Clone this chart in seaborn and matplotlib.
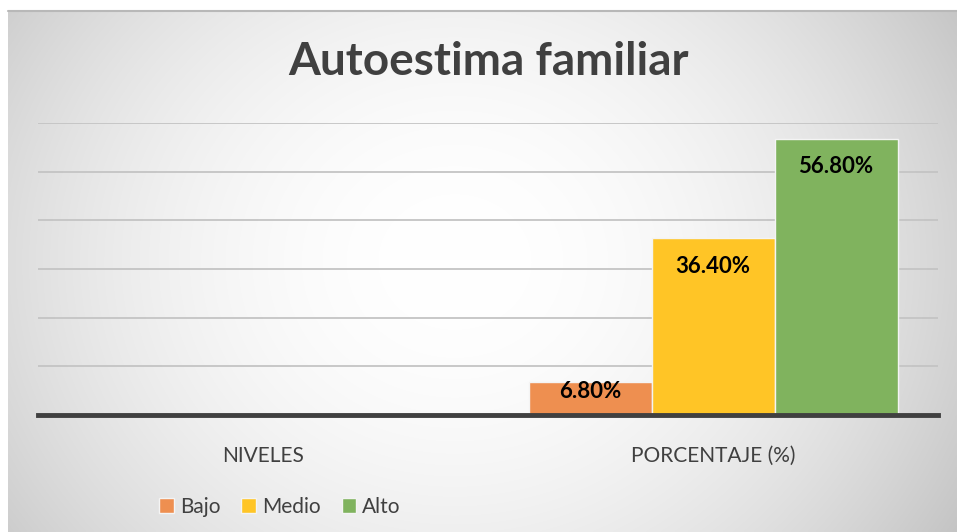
import numpy as np
import pandas as pd
import matplotlib
matplotlib.use('Agg')
import matplotlib.pyplot as plt
import seaborn as sns

# data
categorias = ['NIVELES', 'PORCENTAJE (%)']
niveles = ['Bajo', 'Medio', 'Alto']
niveles_vals = [np.nan, np.nan, np.nan]
porcentaje_vals = [6.8, 36.4, 56.8]
colores = ['#EE8F50', '#FFC526', '#80B35E']

df = pd.DataFrame({
    'categoria': [categorias[0]] * 3 + [categorias[1]] * 3,
    'nivel': niveles * 2,
    'valor': niveles_vals + porcentaje_vals,
})

sns.set_theme(style='white')
plt.rcParams['font.family'] = ['Lato', 'DejaVu Sans']

W, H = 957, 532
fig = plt.figure(figsize=(W / 100, H / 100), dpi=100)
fig.patch.set_facecolor('white')

# radial gray gradient background (Excel style)
bg = fig.add_axes([8 / W, 0, (W - 8) / W, (H - 11) / H])
ny, nx = 260, 480
yy, xx = np.mgrid[0:ny, 0:nx]
cx, cy = nx * 0.47, ny * 0.48
r = np.sqrt(((xx - cx) / nx) ** 2 + ((yy - cy) / ny * 0.62) ** 2)
r = r / r.max()
g = 1 - 0.23 * np.clip(r, 0, 1) ** 2.0
img = np.dstack([g, g, g])
bg.imshow(img, aspect='auto', extent=[0, 1, 0, 1], interpolation='bilinear')
bg.set_axis_off()
bg.plot([0, 1], [1, 1], color='#b8b8b8', lw=1.5, transform=bg.transAxes, clip_on=False)

ax = fig.add_axes([38 / W, 1 - 415 / H, 900 / W, 292 / H])
ax.set_facecolor('none')
sns.barplot(data=df, x='categoria', y='valor', hue='nivel', order=categorias,
            hue_order=niveles, palette=colores, width=0.82, ax=ax,
            edgecolor='#f4f4f4', linewidth=1.0, errorbar=None, saturation=1, zorder=3)

ax.set_xlim(-0.5, 1.5)
ax.set_ylim(0, 60)
ax.set_yticks(range(10, 61, 10))
ax.yaxis.grid(True, color='#c4c4c4', linewidth=1.3, zorder=0)
ax.set_axisbelow(True)
ax.tick_params(axis='y', left=False, labelleft=False)
ax.tick_params(axis='x', bottom=False, pad=16, labelsize=15, labelcolor='#404040')
for s in ['top', 'right', 'left']:
    ax.spines[s].set_visible(False)
ax.spines['bottom'].set_color('#404040')
ax.spines['bottom'].set_linewidth(3.5)
ax.spines['bottom'].set_zorder(5)
ax.set_xlabel('')
ax.set_ylabel('')

# data labels inside end
for cont in ax.containers:
    for bar in cont:
        h = bar.get_height()
        if np.isnan(h) or h == 0:
            continue
        y = max(h - 5.8, h * 0.7)
        ax.text(bar.get_x() + bar.get_width() / 2, y, f'{h:.2f}%',
                ha='center', va='center', fontsize=16, fontweight='bold',
                color='black', zorder=6)

fig.text(488 / W, 1 - 62 / H, 'Autoestima familiar', ha='center', va='center',
         fontsize=33, fontweight='bold', color='#404040')

leg = ax.legend(loc='center', bbox_to_anchor=(280 / W, 1 - 507 / H),
                bbox_transform=fig.transFigure, ncol=3, frameon=False,
                fontsize=15, handlelength=0.7, handleheight=0.7,
                handletextpad=0.3, columnspacing=1.0)
for t in leg.get_texts():
    t.set_color('#404040')

fig.savefig('out.png', dpi=100)
